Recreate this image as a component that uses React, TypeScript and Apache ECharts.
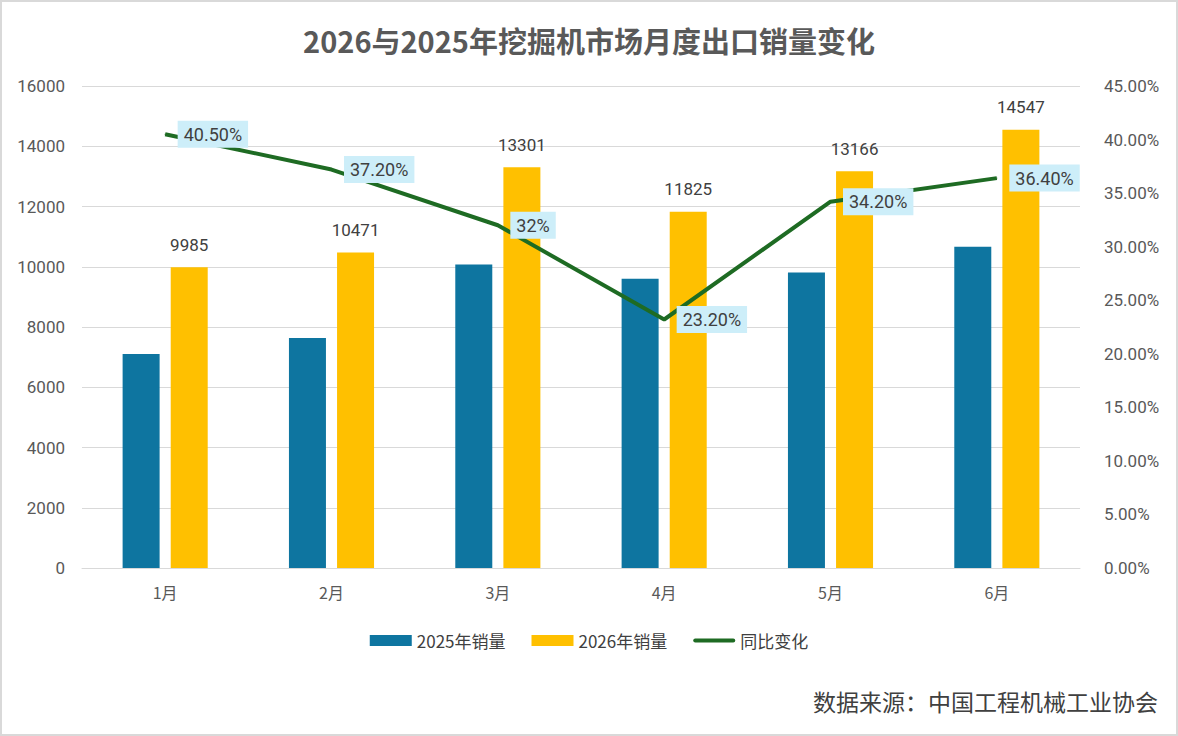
import React, { useEffect, useRef } from "react";
import * as echarts from "echarts";

const months = ["1月", "2月", "3月", "4月", "5月", "6月"];
const sales2025 = [7107, 7632, 10076, 9598, 9811, 10665];
const sales2026 = [9985, 10471, 13301, 11825, 13166, 14547];
const yoy = [40.5, 37.2, 32, 23.2, 34.2, 36.4];
const yoyLabels = ["40.50%", "37.20%", "32%", "23.20%", "34.20%", "36.40%"];
const leftTicks = { min: 0, max: 16000, interval: 2000 };
const rightTicks = { min: 0, max: 45, interval: 5 };

const FONT = "Roboto, 'Noto Sans', 'Noto Sans CJK SC', sans-serif";
const CJK = "'Noto Sans CJK SC', sans-serif";

export default function App() {
  const ref = useRef<HTMLDivElement>(null);
  useEffect(() => {
    if (!ref.current) return;
    const chart = echarts.init(ref.current, undefined, { renderer: "svg" });
    chart.setOption({
      animation: false,
      backgroundColor: "#ffffff",
      textStyle: { fontFamily: FONT },
      title: {
        text: "2026与2025年挖掘机市场月度出口销量变化",
        left: "center",
        top: 18,
        textStyle: {
          fontFamily: CJK,
          fontSize: 29,
          fontWeight: "bold",
          color: "#595959",
        },
      },
      grid: { left: 80, right: 96, top: 84, bottom: 166, containLabel: false },
      legend: {
        bottom: 80,
        left: "center",
        itemGap: 26,
        itemWidth: 42,
        itemHeight: 11,
        textStyle: { fontSize: 17, color: "#404040", fontFamily: CJK },
        data: [
          { name: "2025年销量", icon: "rect" },
          { name: "2026年销量", icon: "rect" },
          {
            name: "同比变化",
            icon: "path://M2,0 H40 A2,2 0 0 1 40,4 H2 A2,2 0 0 1 2,0 Z",
            itemStyle: { color: "#1e6b23" },
          },
        ],
      },
      xAxis: {
        type: "category",
        data: months,
        axisLine: { lineStyle: { color: "#d9d9d9", width: 1 } },
        axisTick: { show: false },
        axisLabel: { fontSize: 16, color: "#595959", margin: 16, fontFamily: CJK },
      },
      yAxis: [
        {
          type: "value",
          ...leftTicks,
          axisLine: { show: false },
          axisTick: { show: false },
          splitLine: { lineStyle: { color: "#d9d9d9", width: 1 } },
          axisLabel: { fontSize: 17, color: "#595959", margin: 17, formatter: (v: number) => String(v) },
        },
        {
          type: "value",
          ...rightTicks,
          axisLine: { show: false },
          axisTick: { show: false },
          splitLine: { show: false },
          axisLabel: {
            fontSize: 17,
            color: "#595959",
            margin: 24,
            formatter: (v: number) => v.toFixed(2) + "%",
          },
        },
      ],
      series: [
        {
          name: "2025年销量",
          type: "bar",
          data: sales2025,
          barWidth: 37,
          barGap: "30%",
          itemStyle: { color: "#0e75a0" },
        },
        {
          name: "2026年销量",
          type: "bar",
          data: sales2026,
          barWidth: 37,
          itemStyle: { color: "#ffc000" },
          label: {
            show: true,
            position: "top",
            distance: 14,
            fontSize: 17,
            color: "#404040",
          },
        },
        {
          name: "同比变化",
          type: "line",
          yAxisIndex: 1,
          data: yoy,
          symbol: "circle",
          symbolSize: 1,
          showSymbol: true,
          lineStyle: { color: "#1e6b23", width: 4 },
          itemStyle: { color: "#1e6b23" },
          z: 5,
          label: {
            show: true,
            position: "right",
            distance: 12,
            fontSize: 18,
            color: "#404040",
            backgroundColor: "#cdeef9",
            padding: [5, 6, 4, 6],
            formatter: (p: any) => yoyLabels[p.dataIndex],
          },
        },
      ],
      graphic: [
        {
          type: "text",
          right: 18,
          bottom: 22,
          style: {
            text: "数据来源：中国工程机械工业协会",
            font: "23px 'Noto Sans CJK SC', sans-serif",
            fill: "#404040",
          },
        },
      ],
    });
    return () => chart.dispose();
  }, []);
  return (
    <div
      style={{
        position: "fixed",
        left: 0,
        top: 0,
        width: 1178,
        height: 736,
        boxSizing: "border-box",
        border: "2px solid #d9d9d9",
        background: "#fff",
      }}
    >
      <div ref={ref} style={{ width: 1174, height: 732 }} />
    </div>
  );
}
